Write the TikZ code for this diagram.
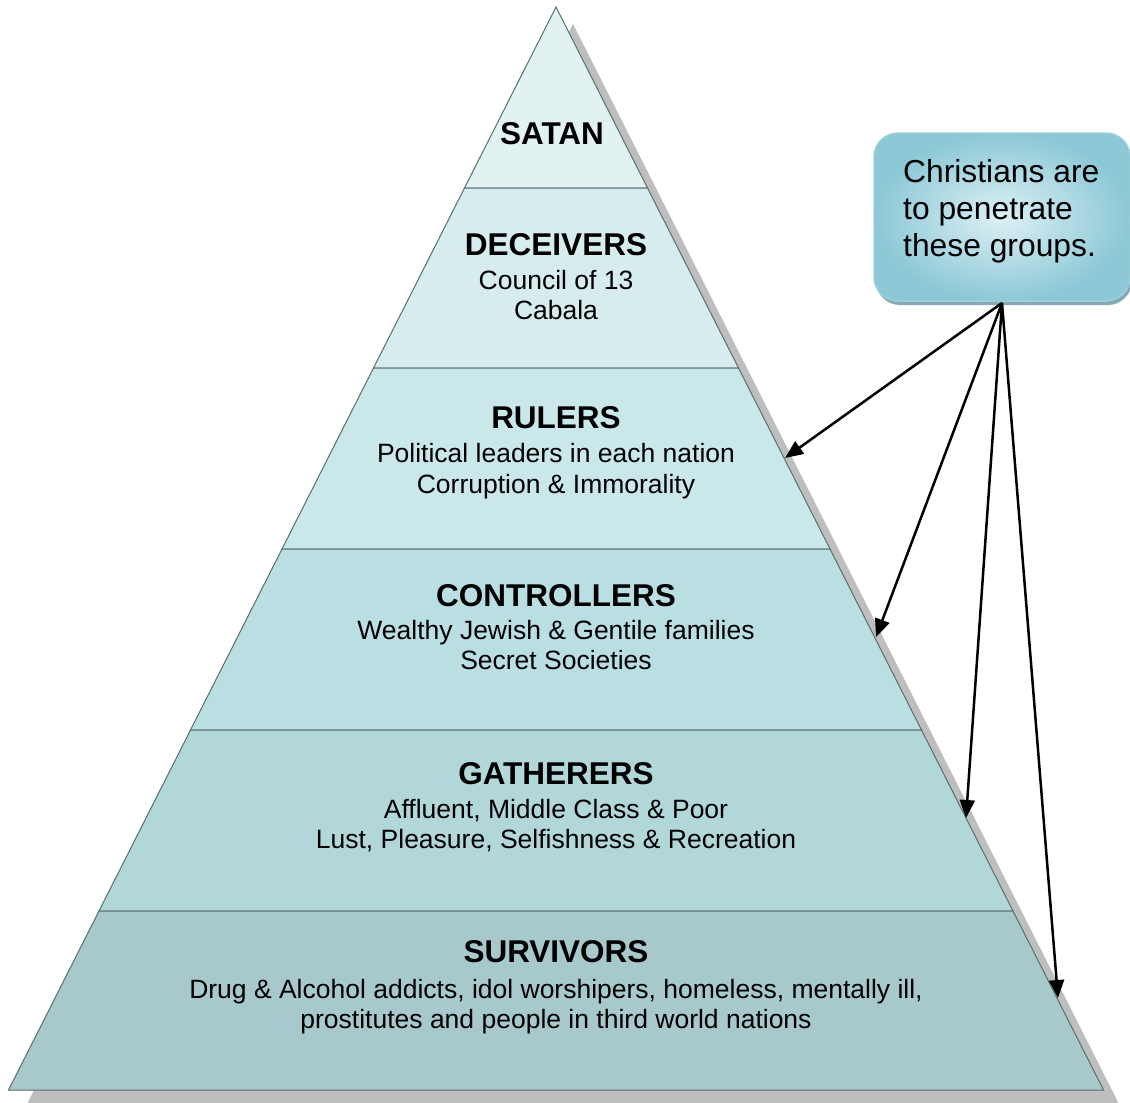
\documentclass[tikz,border=0pt]{standalone}
\usepackage{fontspec}
\setmainfont{Liberation Sans}
\usetikzlibrary{arrows.meta}
\definecolor{bandA}{HTML}{E2F2F3}
\definecolor{bandB}{HTML}{D6ECEF}
\definecolor{bandC}{HTML}{CAE7EA}
\definecolor{bandD}{HTML}{BADFE3}
\definecolor{bandE}{HTML}{B2D7D9}
\definecolor{bandF}{HTML}{A8C9CB}
\definecolor{edgecol}{HTML}{5A6E6E}
\definecolor{shadowcol}{HTML}{BEBEBE}
\definecolor{calloutin}{HTML}{DDF0F5}
\definecolor{calloutout}{HTML}{8CC8D6}
\definecolor{calloutborder}{HTML}{9CCFDB}
\definecolor{calloutshadow}{HTML}{86A9B3}
\tikzset{
  band/.style={draw=edgecol, line width=1pt},
  ttl/.style={anchor=base, inner sep=0pt, font=\fontsize{31.5}{36}\selectfont\bfseries},
  sub/.style={anchor=base, inner sep=0pt, font=\fontsize{26.5}{30.5}\selectfont},
  ctext/.style={anchor=base west, inner sep=0pt, font=\fontsize{31.8}{37}\selectfont},
  ptr/.style={line width=2.5pt, -{Triangle[length=18pt,width=15pt]}},
}
\begin{document}
\begin{tikzpicture}[x=1pt,y=-1pt]
\useasboundingbox (0,0) rectangle (1130,1103);
% shadow
\fill[shadowcol] (573,24) -- (1120.5,1107) -- (25.5,1107) -- cycle;
% bands
\draw[band, fill=bandA] (556,7) -- (647.5,188) -- (464.5,188) -- cycle;
\draw[band, fill=bandB] (464.5,188) -- (647.5,188) -- (738.5,368) -- (373.5,368) -- cycle;
\draw[band, fill=bandC] (373.5,368) -- (738.5,368) -- (830,549) -- (282,549) -- cycle;
\draw[band, fill=bandD] (282,549) -- (830,549) -- (921.5,730) -- (190.5,730) -- cycle;
\draw[band, fill=bandE] (190.5,730) -- (921.5,730) -- (1013,911) -- (99,911) -- cycle;
\draw[band, fill=bandF] (99,911) -- (1013,911) -- (1103.5,1090) -- (8.5,1090) -- cycle;
% texts
\node[ttl] (satan) at (552,144) {SATAN};
\node[ttl] (deceivers) at (556,255) {DECEIVERS};
\node[sub] (dec1) at (556,289) {Council of 13};
\node[sub] (dec2) at (556,319) {Cabala};
\node[ttl] (rulers) at (556,428) {RULERS};
\node[sub] (rul1) at (556,462) {Political leaders in each nation};
\node[sub] (rul2) at (556,493) {Corruption \& Immorality};
\node[ttl] (controllers) at (556,606) {CONTROLLERS};
\node[sub] (con1) at (556,639) {Wealthy Jewish \& Gentile families};
\node[sub] (con2) at (556,669) {Secret Societies};
\node[ttl] (gatherers) at (556,784) {GATHERERS};
\node[sub] (gat1) at (556,818) {Affluent, Middle Class \& Poor};
\node[sub] (gat2) at (556,848) {Lust, Pleasure, Selfishness \& Recreation};
\node[ttl] (survivors) at (556,962) {SURVIVORS};
\node[sub] (sur1) at (556,998) {Drug \& Alcohol addicts, idol worshipers, homeless, mentally ill,};
\node[sub] (sur2) at (556,1028) {prostitutes and people in third world nations};
% callout
\fill[calloutshadow, rounded corners=24pt] (876,137) rectangle (1132,305);
\shade[inner color=calloutin, outer color=calloutout, rounded corners=24pt] (874,133) rectangle (1130,301);
\draw[calloutborder, line width=1.5pt, rounded corners=24pt] (874,133) rectangle (1130,301);
\node[ctext] (c1) at (903,182) {Christians are};
\node[ctext] (c2) at (903,219) {to penetrate};
\node[ctext] (c3) at (903,256) {these groups.};
% connectors
\coordinate (cs) at (1002,303);
\coordinate (e1) at (785,458);
\coordinate (e2) at (876,637);
\coordinate (e3) at (966,818);
\coordinate (e4) at (1058,998);
\draw[ptr] (cs) -- (e1);
\draw[ptr] (cs) -- (e2);
\draw[ptr] (cs) -- (e3);
\draw[ptr] (cs) -- (e4);
\end{tikzpicture}
\end{document}
